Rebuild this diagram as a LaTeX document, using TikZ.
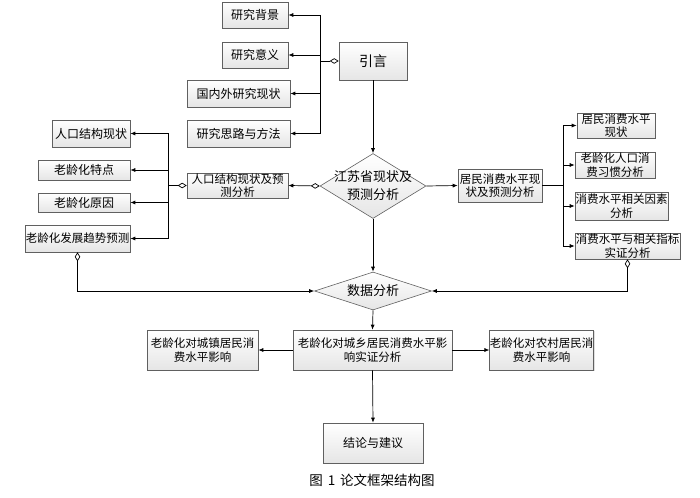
\documentclass[tikz,border=0pt]{standalone}
\usepackage{fontspec}
\setmainfont{Noto Sans CJK SC}
\usetikzlibrary{arrows.meta,shapes.geometric,shadows}
\begin{document}
\begin{tikzpicture}[x=1pt,y=-1pt,
  box/.style={draw=gray!75!black, top color=white, bottom color=gray!20,
    drop shadow={shadow xshift=1.3pt,shadow yshift=-1.3pt,fill=gray!50},
    inner sep=0pt, align=center, line width=0.6pt,
    font=\fontsize{12}{14}\selectfont},
  two/.style={font=\fontsize{11.5}{13.5}\selectfont},
  dia/.style={draw=gray!75!black, shape=diamond, top color=white, bottom color=gray!20,
    inner sep=0pt, line width=0.6pt},
  conn/.style={line width=0.7pt, -{Latex[length=5pt,width=4pt]}},
  plain/.style={line width=0.7pt},
  dconn/.style={line width=0.7pt, {Diamond[open,length=9pt,width=5.5pt]}-{Latex[length=5pt,width=4pt]}},
  dline/.style={line width=0.7pt, {Diamond[open,length=9pt,width=5.5pt]}-}
]
\useasboundingbox (0,0) rectangle (700,497);

% top group
\node[box, minimum width=68pt, minimum height=38pt, font=\fontsize{14}{16}\selectfont] (yan) at (373,61) {引言};
\node[box, minimum width=66pt, minimum height=26pt] (bj) at (255,15) {研究背景};
\node[box, minimum width=66pt, minimum height=26pt] (yy) at (255,55) {研究意义};
\node[box, minimum width=103pt, minimum height=27pt] (gn) at (238.5,93.5) {国内外研究现状};
\node[box, minimum width=103pt, minimum height=27pt] (sl) at (238.5,133.5) {研究思路与方法};
\coordinate (busA) at (320,61);
\draw[dline] (yan.west) -- (busA);
\draw[plain] (320,15) -- (320,133.5);
\draw[conn] (busA) |- (bj.east);
\draw[conn] (busA) |- (yy.east);
\draw[conn] (busA) |- (gn.east);
\draw[conn] (busA) |- (sl.east);

% Jiangsu diamond
\node[dia, minimum width=106pt, minimum height=65pt] (js) at (373,186) {};
\node[align=center, font=\fontsize{13}{18}\selectfont] (jst) at (js.center) {江苏省现状及\\预测分析};
\draw[conn] (yan.south) -- (js.north);

% left group
\node[box, two, minimum width=101pt, minimum height=25pt] (rk) at (237.5,185.5) {人口结构现状及预\\测分析};
\draw[dconn] (js.west) -- (rk.east);
\node[box, minimum width=78pt, minimum height=27pt] (rk1) at (91,133.5) {人口结构现状};
\node[box, minimum width=92pt, minimum height=20pt] (rk2) at (84,170) {老龄化特点};
\node[box, minimum width=92pt, minimum height=19pt] (rk3) at (84,202.5) {老龄化原因};
\node[box, two, minimum width=105pt, minimum height=27pt] (rk4) at (77.5,238.5) {老龄化发展趋势预测};
\coordinate (busB) at (168,185.5);
\draw[dline] (rk.west) -- (busB);
\draw[plain] (168,133.5) -- (168,238.5);
\draw[conn] (busB) |- (rk1.east);
\draw[conn] (busB) |- (rk2.east);
\draw[conn] (busB) |- (rk3.east);
\draw[conn] (busB) |- (rk4.east);

% right group
\node[box, two, minimum width=84pt, minimum height=33pt] (jm) at (500,185.5) {居民消费水平现\\状及预测分析};
\draw[conn] (js.east) -- (jm.west);
\node[box, two, minimum width=78pt, minimum height=25pt] (jm1) at (616,125.5) {居民消费水平\\现状};
\node[box, two, minimum width=80pt, minimum height=26pt] (jm2) at (615,165) {老龄化人口消\\费习惯分析};
\node[box, two, minimum width=93pt, minimum height=28pt] (jm3) at (621.5,206) {消费水平相关因素\\分析};
\node[box, two, minimum width=105pt, minimum height=26pt] (jm4) at (627.5,246) {消费水平与相关指标\\实证分析};
\coordinate (busC) at (563,185.5);
\draw[line width=1.2pt] (jm.east) -- (busC);
\draw[plain] (563,125.5) -- (563,246);
\draw[conn] (busC) |- (jm1.west);
\draw[conn] (busC) |- (jm2.west);
\draw[conn] (busC) |- (jm3.west);
\draw[conn] (busC) |- (jm4.west);

% data analysis
\node[dia, minimum width=117pt, minimum height=38pt] (sj) at (373,291) {};
\node[font=\fontsize{13}{15}\selectfont] (sjt) at (sj.center) {数据分析};
\draw[conn] (js.south) -- (sj.north);
\draw[dconn] (rk4.south) |- (sj.west);
\draw[dconn] (jm4.south) |- (sj.east);

% bottom
\node[box, two, minimum width=159pt, minimum height=40pt] (cx) at (372.5,350) {老龄化对城乡居民消费水平影\\响实证分析};
\node[box, two, minimum width=111pt, minimum height=40pt] (cz) at (202.5,350) {老龄化对城镇居民消\\费水平影响};
\node[box, two, minimum width=97pt, minimum height=40pt] (nc) at (541.5,350) {老龄化对农村居民消\\费水平影响};
\draw[conn] (sj.south) -- (cx.north);
\draw[conn] (cx.west) -- (cz.east);
\draw[conn] (cx.east) -- (nc.west);
\node[box, minimum width=100pt, minimum height=40pt] (jl) at (373,443) {结论与建议};
\draw[conn] (cx.south) -- (jl.north);

\node[font=\fontsize{13.5}{15}\selectfont] (cap) at (372,480) {图\hspace{5pt}1\hspace{5pt}论文框架结构图};
\end{tikzpicture}
\end{document}
